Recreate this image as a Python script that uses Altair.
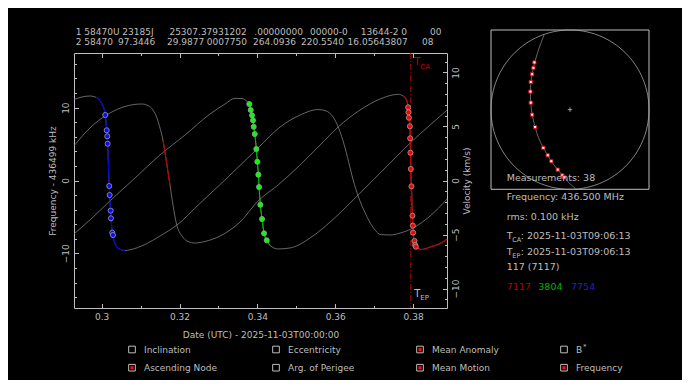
import altair as alt
import numpy as np
import pandas as pd

FONT = "DejaVu Sans"
FG = "#bebebe"
GRAY = "#808080"
W, H = 373, 255
XDOM = [0.2929, 0.3887]
YDOM = [-17.5, 17.5]
VDOM = [-11.8, 11.8]
TCA = 0.37941

# ---------------- data ----------------
tle_line1 = ["1 58470U 23185J", "25307.37931202", ".00000000", "00000-0", "13644-2 0", "00"]
tle_line2 = ["2 58470", "97.3446", "29.9877", "0007750", "264.0936", "220.5540", "16.05643807", "08"]

# measurements (days since 2025-11-03T00:00:00, frequency offset in kHz)
blue_t = [0.30093, 0.30129, 0.30144, 0.30154, 0.30195, 0.30206, 0.30231, 0.30239, 0.30272, 0.30290]
blue_f = [8.99, 6.89, 6.07, 5.05, -0.75, -1.99, -4.14, -5.19, -7.16, -7.48]
green_t = [0.33793, 0.33829, 0.33863, 0.33888, 0.33906, 0.33932, 0.33973, 0.33999, 0.34025,
           0.34043, 0.34076, 0.34120, 0.34171, 0.34241]
green_f = [10.50, 9.68, 8.95, 8.26, 7.38, 6.38, 4.32, 2.58, 0.80, -0.89, -3.32, -5.28, -7.25, -8.21]
red_t = [0.37872, 0.37880, 0.37890, 0.37916, 0.37923, 0.37931, 0.37941, 0.37957, 0.37982,
         0.37993, 0.38000, 0.38034, 0.38052, 0.38070]
red_f = [10.05, 9.36, 8.62, 7.44, 5.79, 3.82, 1.58, -0.80, -4.83, -6.20, -7.16, -8.30, -8.85, -9.09]

# model curves (one per station)
c1_t = [0.29288, 0.29494, 0.29699, 0.29854, 0.29956, 0.30008, 0.30059, 0.30093, 0.30129, 0.30154,
        0.30175, 0.30195, 0.30231, 0.30272, 0.30316, 0.30386, 0.30470, 0.30599, 0.30727, 0.31113,
        0.31498, 0.31935, 0.32526, 0.33220, 0.34017, 0.34583, 0.35097, 0.35559, 0.35765, 0.35945,
        0.36073, 0.36253, 0.36382, 0.36459, 0.36588, 0.36768, 0.36948, 0.37179, 0.37410, 0.37667,
        0.38000, 0.38437, 0.38874]
c1_f = [11.12, 11.46, 11.60, 11.42, 10.98, 10.50, 9.91, 8.99, 6.93, 5.01,
        2.13, -0.75, -4.19, -7.21, -8.23, -9.09, -9.44, -9.61, -9.51, -8.78,
        -7.62, -6.11, -3.13, 0.34, 4.46, 7.34, 8.99, 9.74, 9.54, 8.72,
        7.38, 4.46, 1.72, 0.07, -2.13, -4.46, -6.24, -7.44, -7.48, -7.21,
        -6.52, -4.87, -2.54]
c2a_t = [0.29288, 0.29699, 0.30213, 0.30599, 0.31028, 0.31190, 0.31318, 0.31421, 0.31498, 0.31575,
         0.31665, 0.31755, 0.31832, 0.31927, 0.32064, 0.32218, 0.32398, 0.32655, 0.33040, 0.33554,
         0.34017, 0.34531, 0.35097, 0.35611, 0.36073, 0.36639, 0.37153, 0.37462, 0.37616, 0.37744,
         0.37808, 0.37847]
c2a_f = [4.74, 7.21, 9.26, 10.16, 10.50, 10.29, 9.68, 8.58, 7.21, 5.56,
         2.54, -0.62, -3.36, -6.07, -7.62, -8.37, -8.58, -8.37, -7.62, -5.70,
         -2.81, -0.62, 2.13, 4.87, 7.34, 9.68, 11.19, 11.73, 11.83, 11.60,
         11.25, 10.77]
c2b_t = [0.38129, 0.38232, 0.38437, 0.38694, 0.38874]
c2b_f = [-9.33, -9.47, -9.13, -8.65, -8.03]
c3a_t = [0.29288, 0.29699, 0.30213, 0.30856, 0.31498, 0.32141, 0.32783, 0.33169, 0.33426, 0.33606, 0.33734]
c3a_f = [-7.34, -5.42, -2.81, 0.34, 3.50, 6.24, 9.13, 10.50, 11.28, 11.25, 10.84]
c3b_t = [0.34325, 0.34531, 0.34840, 0.35354, 0.35868, 0.36382, 0.36845, 0.37410, 0.37924, 0.38437, 0.38874]
c3b_f = [-8.92, -9.40, -9.26, -7.89, -5.70, -3.09, -0.62, 2.40, 5.15, 7.62, 9.68]

# sky track (unit circle coordinates)
track_u = [-0.324, -0.387, -0.431, -0.463, -0.488, -0.501, -0.497, -0.479, -0.441, -0.400,
           -0.337, -0.236, -0.156, -0.072, -0.009, 0.076]
track_v = [0.946, 0.786, 0.647, 0.525, 0.395, 0.231, 0.088, -0.063, -0.219, -0.349,
           -0.479, -0.648, -0.753, -0.850, -0.923, -0.996]
sky_u = [-0.450, -0.463, -0.479, -0.497, -0.501, -0.497, -0.479, -0.441, -0.337, -0.282,
         -0.236, -0.156, -0.097, -0.072]
sky_v = [0.593, 0.525, 0.445, 0.348, 0.227, 0.088, -0.063, -0.219, -0.479, -0.573,
         -0.648, -0.753, -0.825, -0.850]

check_labels = ["Inclination", "Eccentricity", "Mean Anomaly", "B",
                "Ascending Node", "Arg. of Perigee", "Mean Motion", "Frequency"]
check_col = [0, 1, 2, 3, 0, 1, 2, 3]
check_row = [0, 0, 0, 0, 1, 1, 1, 1]
check_on = [0, 0, 1, 0, 1, 0, 1, 1]

stations = ["7117", "3804", "7754"]
station_colors = ["#b40000", "#00b000", "#2020c0"]

# ---------------- frames ----------------
c2_t = c2a_t + red_t + c2b_t
c2_f = c2a_f + red_f + c2b_f
c3_t = c3a_t + green_t + c3b_t
c3_f = c3a_f + green_f + c3b_f

curves = pd.concat([
    pd.DataFrame({"curve": name, "t": t, "f": f, "i": range(len(t))})
    for name, t, f in [("c1", c1_t, c1_f), ("c2", c2_t, c2_f), ("c3", c3_t, c3_f)]
])

def seg(name, df, lo, hi, col):
    s = df[(df.t >= lo) & (df.t <= hi)].copy()
    s["seg"] = name
    s["c"] = col
    return s

segs = pd.concat([
    seg("blue", curves[curves.curve == "c1"], 0.2985, 0.3062, "#0000d8"),
    seg("green", curves[curves.curve == "c3"], 0.3378, 0.3435, "#00b400"),
    seg("red1", curves[curves.curve == "c2"], 0.3155, 0.3180, "#b80000"),
    seg("red2", curves[curves.curve == "c2"], 0.3770, 0.3890, "#b80000"),
])

points = pd.concat([
    pd.DataFrame({"t": blue_t, "f": blue_f, "c": "#0a0aff"}),
    pd.DataFrame({"t": green_t, "f": green_f, "c": "#00ff00"}),
    pd.DataFrame({"t": red_t, "f": red_f, "c": "#ff0000"}),
])

xs = alt.Scale(domain=XDOM, nice=False, zero=False)
ys = alt.Scale(domain=YDOM, nice=False, zero=False)
vs = alt.Scale(domain=VDOM, nice=False, zero=False)

layers = []

layers.append(alt.Chart(curves).mark_line(color=GRAY, strokeWidth=0.8, interpolate="monotone").encode(
    x=alt.X("t:Q", scale=xs, axis=None), y=alt.Y("f:Q", scale=ys, axis=None),
    detail="curve:N", order="i:Q"))

layers.append(alt.Chart(segs).mark_line(strokeWidth=1.1, interpolate="monotone").encode(
    x=alt.X("t:Q", scale=xs, axis=None), y=alt.Y("f:Q", scale=ys, axis=None),
    color=alt.Color("c:N", scale=None), detail="seg:N", order="i:Q"))

layers.append(alt.Chart(pd.DataFrame({"t": [TCA]})).mark_rule(
    color="#c00000", strokeWidth=1, strokeDash=[6, 2, 1, 2]).encode(
    x=alt.X("t:Q", scale=xs, axis=None)))

layers.append(alt.Chart(points).mark_circle(size=26, stroke="#a0a0a0", strokeWidth=0.8, opacity=1).encode(
    x=alt.X("t:Q", scale=xs, axis=None), y=alt.Y("f:Q", scale=ys, axis=None),
    color=alt.Color("c:N", scale=None)))


def tca_label(text, dx, y, color, size):
    return alt.Chart(pd.DataFrame({"t": [TCA], "s": [text]})).mark_text(
        align="left", baseline="middle", dx=dx, color=color, fontSize=size, font=FONT).encode(
        x=alt.X("t:Q", scale=xs, axis=None), y=alt.value(y), text="s:N")

layers += [tca_label("T", 3.5, 8.7, "#c00000", 10), tca_label("CA", 9.5, 14.3, "#c00000", 7),
           tca_label("T", 3.5, 241, FG, 10), tca_label("EP", 9.5, 245, FG, 7)]

# ---------------- axes ----------------
xmaj = [0.30, 0.32, 0.34, 0.36, 0.38]
xmin = [0.31, 0.33, 0.35, 0.37]
ymaj = [-10, 0, 10]
ymin = [-16, -14, -12, -8, -6, -4, -2, 2, 4, 6, 8, 12, 14, 16]
vmaj = [-10, -5, 0, 5, 10]
vmin = [-11, -9, -8, -7, -6, -4, -3, -2, -1, 1, 2, 3, 4, 6, 7, 8, 9, 11]


def axis_layer(xaxis=None, yaxis=None, yscale=ys, ydom=YDOM):
    df = pd.DataFrame({"t": XDOM, "f": ydom})
    return alt.Chart(df).mark_point(opacity=0).encode(
        x=alt.X("t:Q", scale=xs, axis=xaxis), y=alt.Y("f:Q", scale=yscale, axis=yaxis))


def tick_axis(orient, values, size):
    return alt.Axis(orient=orient, offset=-(H if orient in ("top", "bottom") else W), values=values,
                    tickSize=size, labels=False, title=None, domain=False)

layers.append(axis_layer(
    alt.Axis(orient="bottom", values=xmaj, format="~g", ticks=False, labelPadding=4,
             title="Date (UTC) - 2025-11-03T00:00:00", titlePadding=9),
    alt.Axis(orient="left", values=ymaj, ticks=False, labelAngle=270, labelAlign="center",
             labelBaseline="middle", labelPadding=9, title="Frequency - 436499 kHz",
             titleAngle=270, titleBaseline="bottom", titlePadding=4)))
layers.append(axis_layer(tick_axis("top", xmaj, 4.5), tick_axis("right", ymaj, 4.5)))
layers.append(axis_layer(tick_axis("top", xmin, 2.5), tick_axis("right", ymin, 2.5)))
layers.append(axis_layer(tick_axis("bottom", xmaj, 4.5), None))
layers.append(axis_layer(tick_axis("bottom", xmin, 2.5), None))
layers.append(axis_layer(None, alt.Axis(orient="right", values=vmaj, ticks=False, labelAngle=270,
                                        labelAlign="center", labelBaseline="middle", labelPadding=8,
                                        title="Velocity (km/s)", titleAngle=270, titleBaseline="top",
                                        titlePadding=2), vs, VDOM))
layers.append(axis_layer(None, tick_axis("left", vmaj, 4.5), vs, VDOM))
layers.append(axis_layer(None, tick_axis("left", vmin, 2.5), vs, VDOM))

# ---------------- sky plot ----------------
sx = alt.Scale(domain=[-1, 1], range=[417, 575], nice=False, zero=False)
sy = alt.Scale(domain=[-1, 1], range=[136.3, -23], nice=False, zero=False)

layers.append(alt.Chart(pd.DataFrame({"u0": [-1], "u1": [1], "v0": [-1], "v1": [1]})).mark_rect(
    fillOpacity=0, stroke=FG, strokeWidth=1).encode(
    x=alt.X("u0:Q", scale=sx, axis=None), x2="u1:Q",
    y=alt.Y("v0:Q", scale=sy, axis=None), y2="v1:Q"))

ang = np.linspace(0, 2 * np.pi, 181)
circle = pd.DataFrame({"u": np.cos(ang), "v": np.sin(ang), "i": range(len(ang))})
layers.append(alt.Chart(circle).mark_line(color="#a8a8a8", strokeWidth=0.8).encode(
    x=alt.X("u:Q", scale=sx, axis=None), y=alt.Y("v:Q", scale=sy, axis=None), order="i:Q"))

layers.append(alt.Chart(pd.DataFrame({"u": [0], "v": [0]})).mark_point(
    shape="M-1,0L1,0M0,-1L0,1", size=20, filled=False, stroke=FG, strokeWidth=0.8, opacity=1).encode(
    x=alt.X("u:Q", scale=sx, axis=None), y=alt.Y("v:Q", scale=sy, axis=None)))

track = pd.DataFrame({"u": track_u, "v": track_v, "i": range(len(track_u))})
layers.append(alt.Chart(track).mark_line(color=GRAY, strokeWidth=0.8, interpolate="catmull-rom").encode(
    x=alt.X("u:Q", scale=sx, axis=None), y=alt.Y("v:Q", scale=sy, axis=None), order="i:Q"))

layers.append(alt.Chart(pd.DataFrame({"u": sky_u, "v": sky_v})).mark_square(
    size=10, fill="white", stroke="#e00000", strokeWidth=1, opacity=1).encode(
    x=alt.X("u:Q", scale=sx, axis=None), y=alt.Y("v:Q", scale=sy, axis=None)))

# ---------------- checkboxes ----------------
cx = alt.Scale(domain=[0, 3], range=[58, 490], nice=False, zero=False)
cy = alt.Scale(domain=[0, 1], range=[296.5, 314.7], nice=False, zero=False)
checks = pd.DataFrame({"label": check_labels, "col": check_col, "row": check_row, "on": check_on})
cbase = alt.Chart(checks).encode(x=alt.X("col:Q", scale=cx, axis=None), y=alt.Y("row:Q", scale=cy, axis=None))
layers.append(cbase.mark_square(size=44, filled=False, stroke=FG, strokeWidth=1, fillOpacity=0, opacity=1))
layers.append(cbase.transform_filter("datum.on == 1").mark_square(size=9, color="#ff1010", opacity=1))
layers.append(cbase.mark_text(align="left", baseline="middle", dx=12, color=FG, fontSize=9, font=FONT).encode(
    text="label:N"))
layers.append(cbase.transform_filter("datum.label == 'B'").mark_text(
    align="left", baseline="middle", dx=19, dy=-3, color=FG, fontSize=7, font=FONT).encode(
    text=alt.value("*")))


# ---------------- text ----------------
def txt(text, x, y, color=FG, size=9):
    return alt.Chart(pd.DataFrame({"s": [text]})).mark_text(
        align="left", baseline="middle", color=color, fontSize=size, font=FONT).encode(
        x=alt.value(x), y=alt.value(y), text="s:N")

for s, x in zip(tle_line1, [1.7, 95.4, 180.3, 236, 286.8, 356]):
    layers.append(txt(s, x, -21.5))
for s, x in zip(tle_line2, [1.7, 44.0, 93, 132.8, 179, 227, 273.6, 348]):
    layers.append(txt(s, x, -11.0))

RX = 432.7
PS = 9.5
layers += [
    txt("Measurements: 38", RX, 124.7, size=PS),
    txt("Frequency: 436.500 MHz", RX, 144.3, size=PS),
    txt("rms: 0.100 kHz", RX, 163.7, size=PS),
    txt("T", RX, 182.7, size=PS), txt("CA", RX + 5.6, 186.8, size=6.5),
    txt(": 2025-11-03T09:06:13", RX + 14.0, 182.7, size=PS),
    txt("T", RX, 198.7, size=PS), txt("EP", RX + 5.6, 202.8, size=6.5),
    txt(": 2025-11-03T09:06:13", RX + 14.0, 198.7, size=PS),
    txt("117 (7117)", RX, 214.3, size=PS),
]
for s, c, x in zip(stations, station_colors, [RX, RX + 31.6, RX + 64.3]):
    layers.append(txt(s, x, 233.7, color=c, size=PS))

chart = alt.layer(*layers).resolve_scale(x="independent", y="independent").properties(
    width=W, height=H,
    padding={"left": 66, "top": 45, "right": 235, "bottom": 72},
    autosize=alt.AutoSizeParams(type="none"),
    background="black",
).configure_view(stroke=FG, strokeWidth=1).configure_axis(
    domain=False, grid=False, labelFont=FONT, titleFont=FONT, labelFontSize=9, titleFontSize=9,
    labelColor=FG, titleColor=FG, tickColor=FG, titleFontWeight="normal", labelOverlap=False,
    labelFlush=False)

chart.save("out.html", embed_options={"renderer": "svg", "actions": False})
